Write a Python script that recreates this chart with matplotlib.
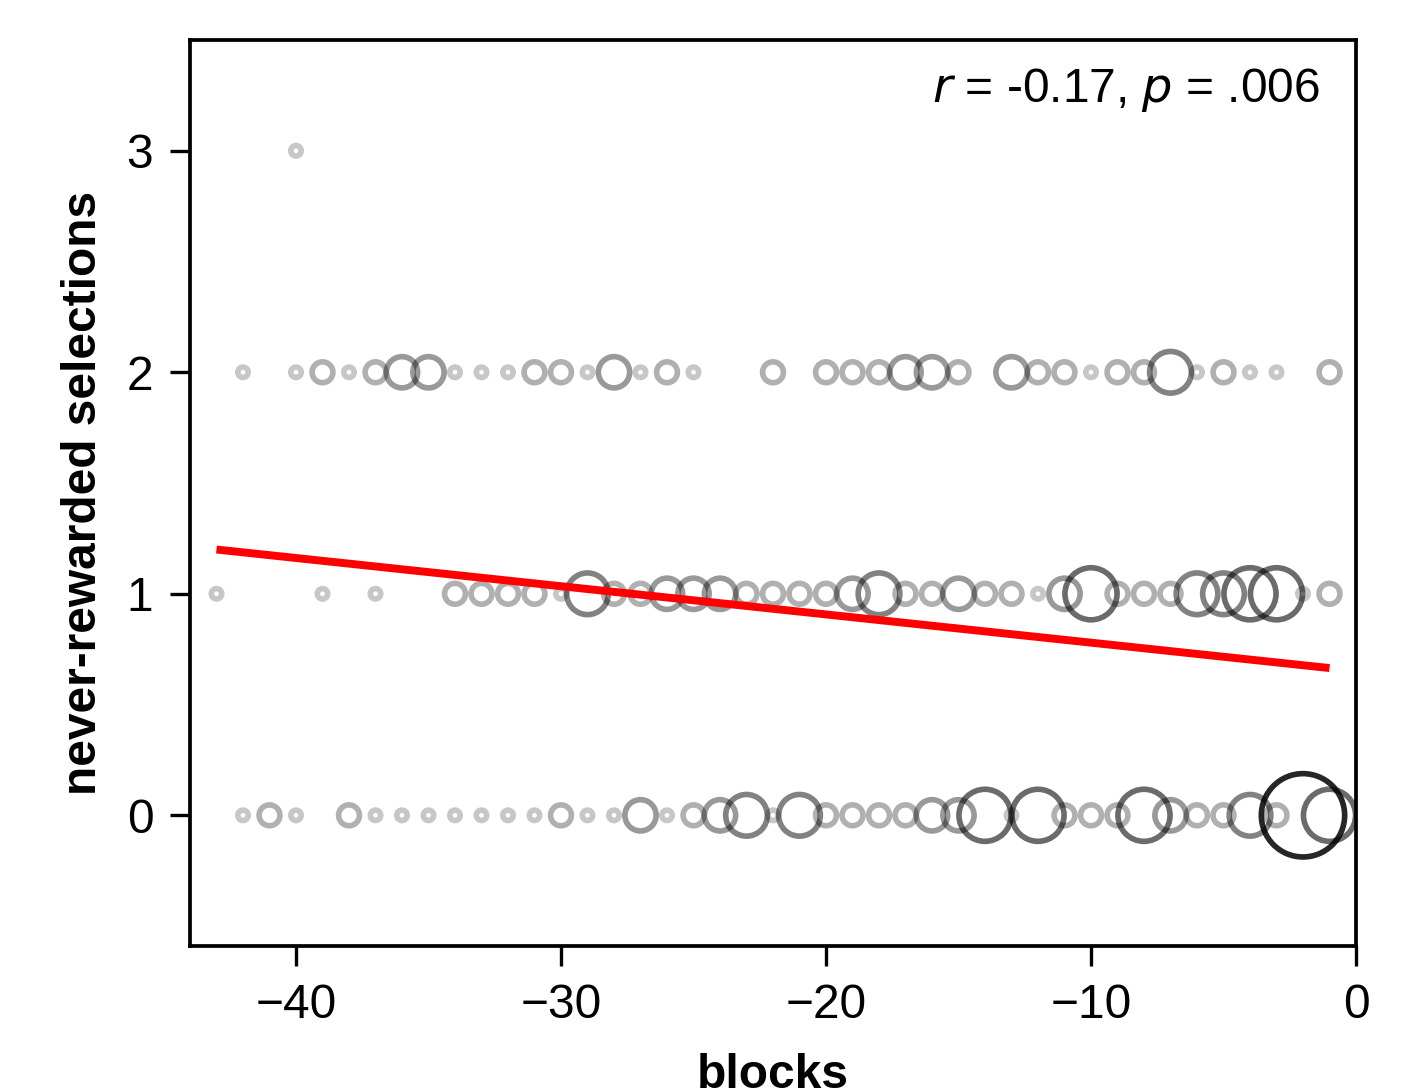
import matplotlib
matplotlib.use("Agg")
import matplotlib.pyplot as plt
import numpy as np

plt.rcParams['font.family'] = ['Liberation Sans', 'DejaVu Sans']

# never-rewarded selections = 3
row3_x = [-40]
row3_n = [1]

# never-rewarded selections = 2
row2_x = [-42, -40, -39, -38, -37, -36, -35, -34, -33, -32, -31, -30, -29, -28, -27, -26, -25,
          -22, -20, -19, -18, -17, -16, -15, -13, -12, -11, -10, -9, -8, -7, -6, -5, -4, -3, -1]
row2_n = [1, 1, 2, 1, 2, 3, 3, 1, 1, 1, 2, 2, 1, 3, 1, 2, 1,
          2, 2, 2, 2, 3, 3, 2, 3, 2, 2, 1, 2, 2, 4, 1, 2, 1, 1, 2]

# never-rewarded selections = 1
row1_x = [-43, -39, -37, -34, -33, -32, -31, -30, -29, -28, -27, -26, -25, -24, -23, -22,
          -21, -20, -19, -18, -17, -16, -15, -14, -13, -12, -11, -10, -9, -8, -7, -6, -5, -4, -3, -2, -1]
row1_n = [1, 1, 1, 2, 2, 2, 2, 1, 4, 2, 2, 3, 3, 3, 2, 2,
          2, 2, 3, 4, 2, 2, 3, 2, 2, 1, 3, 5, 2, 2, 2, 4, 4, 5, 5, 1, 2]

# never-rewarded selections = 0
row0_x = [-42, -41, -40, -38, -37, -36, -35, -34, -33, -32, -31, -30, -29, -28, -27, -26, -25, -24, -23, -22,
          -21, -20, -19, -18, -17, -16, -15, -14, -13, -12, -11, -10, -9, -8, -7, -6, -5, -4, -3, -2, -1]
row0_n = [1, 2, 1, 2, 1, 1, 1, 1, 1, 1, 1, 2, 1, 1, 3, 1, 2, 3, 4, 1,
          4, 2, 2, 2, 2, 3, 3, 5, 1, 5, 2, 2, 2, 5, 3, 2, 2, 4, 2, 8, 5]

# regression line (as shown)
fit_slope = -0.01274
fit_intercept = 0.652
fit_x_range = [-43, -1]

annotation = "$r$ = -0.17, $p$ = .006"
x_ticks = [-40, -30, -20, -10, 0]
y_ticks = [0, 1, 2, 3]

xs = np.array(row0_x + row1_x + row2_x + row3_x, dtype=float)
ys = np.array([0] * len(row0_x) + [1] * len(row1_x) + [2] * len(row2_x) + [3] * len(row3_x), dtype=float)
ns = np.array(row0_n + row1_n + row2_n + row3_n, dtype=float)

order = np.argsort(ns, kind="stable")
xs, ys, ns = xs[order], ys[order], ns[order]

sizes = (2.5 * ns) ** 2
alphas = np.clip(0.13 + 0.09 * ns, 0, 1)
edge = np.zeros((len(ns), 4))
edge[:, 3] = alphas

fig = plt.figure(figsize=(1418 / 300, 1088 / 300), dpi=300)
ax = fig.add_axes([190 / 1418, 1 - 946 / 1088, (1356 - 190) / 1418, (946 - 40) / 1088])

ax.scatter(xs, ys, s=sizes, facecolors='none', edgecolors=edge, linewidths=1.35, zorder=2)

fx = np.array(fit_x_range, dtype=float)
ax.plot(fx, fit_intercept + fit_slope * fx, color='red', lw=1.9, zorder=3, solid_capstyle='butt')

ax.set_xlim(-44, 0)
ax.set_ylim(-0.59, 3.5)
ax.set_xticks(x_ticks)
ax.set_yticks(y_ticks)
ax.tick_params(labelsize=11.5, length=4.8, width=0.8, pad=4)
for s in ax.spines.values():
    s.set_linewidth(0.9)

ax.set_xlabel("blocks", fontsize=11.5, fontweight='bold', labelpad=6)
ax.set_ylabel("never-rewarded selections", fontsize=11.5, fontweight='bold', labelpad=5)

ax.text(0.969, 0.945, annotation, transform=ax.transAxes, ha='right', va='center', fontsize=11.5)

fig.savefig("out.png", dpi=300)
